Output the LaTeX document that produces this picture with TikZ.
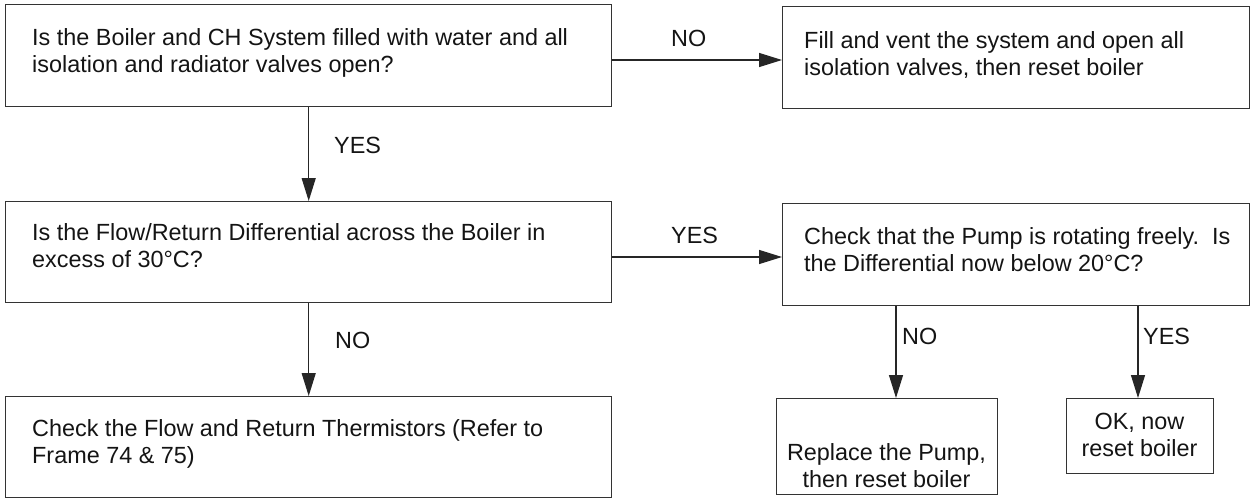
\documentclass[tikz,border=0pt]{standalone}
\usepackage{fontspec}
\setmainfont{Liberation Sans}
\usetikzlibrary{arrows.meta}
\begin{document}
\begin{tikzpicture}[x=1pt,y=-1pt,
  every node/.style={font=\fontsize{23.4}{27}\selectfont, text=black!92},
  box/.style={draw=black!80, line width=1.4pt, inner sep=0pt},
  txt/.style={anchor=north west, align=left, inner sep=0pt},
  ctxt/.style={anchor=north, align=center, inner sep=0pt},
  lbl/.style={anchor=base west, inner sep=0pt},
  conn/.style={draw=black!85, line width=1.3pt, -{Triangle[length=23pt,width=14pt]}}]
\useasboundingbox (0,0) rectangle (1253,498);
% boxes
\node[box, fit/.style={}, minimum width=606pt, minimum height=102pt, anchor=north west] (a) at (5,4) {};
\node[box, minimum width=467pt, minimum height=102pt, anchor=north west] (c) at (782,6) {};
\node[box, minimum width=606pt, minimum height=101pt, anchor=north west] (b) at (5,201) {};
\node[box, minimum width=467pt, minimum height=102pt, anchor=north west] (d) at (782,203) {};
\node[box, minimum width=606pt, minimum height=101pt, anchor=north west] (e) at (5,396) {};
\node[box, minimum width=221pt, minimum height=96pt, anchor=north west] (f) at (776,398) {};
\node[box, minimum width=147pt, minimum height=75pt, anchor=north west] (g) at (1066,398) {};
% texts
\node[txt] (ta) at (32,28) {Is the Boiler and CH System filled with water and all\\isolation and radiator valves open?};
\node[txt] (tc) at (804,31) {Fill and vent the system and open all\\isolation valves, then reset boiler};
\node[txt] (tb) at (32,223) {Is the Flow/Return Differential across the Boiler in\\excess of 30°C?};
\node[txt] (td) at (804,227) {Check that the Pump is rotating freely.\ \ Is\\the Differential now below 20°C?};
\node[txt] (te) at (32,419) {Check the Flow and Return Thermistors (Refer to\\Frame 74 \& 75)};
\node[ctxt] (tf) at (886.5,443) {Replace the Pump,\\then reset boiler};
\node[ctxt] (tg) at (1139.5,413) {OK, now\\reset boiler};
% connector levels
\coordinate (p1) at (700,60);
\coordinate (p2) at (700,257);
\coordinate (p3) at (896,350);
\coordinate (p4) at (1138,350);
\draw[conn] (a.east |- p1) -- (c.west |- p1);
\draw[conn] (b.east |- p2) -- (d.west |- p2);
\draw[conn] (a.south) -- (b.north);
\draw[conn] (b.south) -- (e.north);
\draw[conn] (p3 |- d.south) -- (p3 |- f.north);
\draw[conn] (p4 |- d.south) -- (p4 |- g.north);
% labels
\node[lbl] (l1) at (671,46) {NO};
\node[lbl] (l2) at (671,243) {YES};
\node[lbl] (l3) at (334,153) {YES};
\node[lbl] (l4) at (335,348) {NO};
\node[lbl] (l5) at (902,344) {NO};
\node[lbl] (l6) at (1143,344) {YES};
\end{tikzpicture}
\end{document}
